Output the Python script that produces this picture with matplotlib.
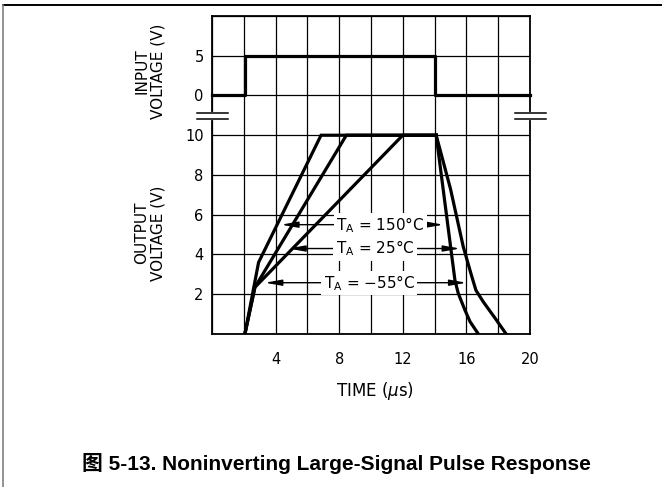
import numpy as np
import matplotlib.pyplot as plt
import matplotlib.transforms as mtransforms
from matplotlib.lines import Line2D

### Data ###
# input pulse (V) vs time (us)
t_in = [0, 2.05, 2.05, 14.0, 14.0, 20]
v_in = [0, 0, 5, 5, 0, 0]

# output rising edges + plateau
t_150 = [2.07, 2.93, 6.86, 14.1]
v_150 = [0, 3.6, 10, 10]
t_25 = [2.07, 2.7, 8.45, 14.1]
v_25 = [0, 2.35, 10, 10]
t_m55 = [2.07, 2.7, 12.0, 14.1]
v_m55 = [0, 2.35, 10, 10]

# output falling edges
t_fallA = [14.1, 15.28, 15.49, 15.91, 16.23, 16.75]
v_fallA = [10, 2.7, 2.04, 1.2, 0.62, 0]
t_fallB = [14.1, 15.0, 15.8, 16.3, 16.6, 17.06, 17.8, 18.5]
v_fallB = [10, 7.3, 4.4, 3.0, 2.2, 1.62, 0.8, 0]

# temperature labels: text centre, left arrow tip, right arrow tip
lbl_text = [r'T$_\mathrm{A}$ = 150°C', r'T$_\mathrm{A}$ = 25°C', r'T$_\mathrm{A}$ = $-$55°C']
lbl_t = [10.6, 10.25, 9.9]
lbl_v = [5.5, 4.3, 2.58]
lbl_left = [4.35, 4.8, 3.33]
lbl_right = [14.55, 15.6, 16.0]

x_ticks = [0, 2, 4, 6, 8, 10, 12, 14, 16, 18, 20]
x_labels = ['', '', '4', '', '8', '', '12', '', '16', '', '20']
out_ticks = [0, 2, 4, 6, 8, 10]
out_labels = ['', '2', '4', '6', '8', '10']
in_ticks = [0, 5]
in_labels = ['0', '5']

# input panel sits above the output panel on a shared grid
IN_BASE = 12.0
IN_SCALE = 0.4

fig = plt.figure(figsize=(6.62, 4.87), dpi=100)
ax = fig.add_axes([0.3202, 0.3142, 0.4804, 0.6530])
ax.set_xlim(0, 20)
ax.set_ylim(0, 16)

yt = out_ticks + [IN_BASE + IN_SCALE*v for v in in_ticks] + [16]
yl = out_labels + in_labels + ['']
ax.set_yticks(yt)
ax.set_yticklabels(yl)
ax.set_xticks(x_ticks)
ax.set_xticklabels(x_labels)
ax.tick_params(length=0, labelsize=10.5, colors='k')
ax.tick_params(axis='y', pad=6)
ax.tick_params(axis='x', pad=13)
ax.grid(True, color='k', lw=0.9)
for s in ax.spines.values():
    s.set_linewidth(1.3)

lw = 2.3
ax.plot(t_in, [IN_BASE + IN_SCALE*v for v in v_in], color='k', lw=lw, zorder=4, clip_on=False)
for tt, vv in [(t_150, v_150), (t_25, v_25), (t_m55, v_m55), (t_fallA, v_fallA), (t_fallB, v_fallB)]:
    ax.plot(tt, vv, color='k', lw=lw, zorder=4, solid_joinstyle='miter')

# axis break marks
trans = mtransforms.blended_transform_factory(ax.transAxes, ax.transData)
for xa in [(-0.048, 0.05), (0.953, 1.05)]:
    for yb in [10.82, 11.1]:
        ax.add_line(Line2D(xa, [yb, yb], transform=trans, color='k', lw=1.1, clip_on=False, zorder=6))
for xs in [0, 20]:
    ax.plot([xs, xs], [10.87, 11.05], color='white', lw=3, clip_on=False, zorder=5)

# temperature annotations
for i in range(3):
    for tip in [lbl_left[i], lbl_right[i]]:
        ax.annotate('', xy=(tip, lbl_v[i]), xytext=(lbl_t[i], lbl_v[i]),
                    arrowprops=dict(arrowstyle='-|>,head_length=1.0,head_width=0.18',
                                    color='k', lw=1.0, shrinkA=0, shrinkB=0),
                    zorder=4)
    ax.text(lbl_t[i], lbl_v[i], lbl_text[i], ha='center', va='center', fontsize=11,
            zorder=6, bbox=dict(boxstyle='square,pad=0.15', fc='white', ec='none'))

fig.text(150/662, 1 - 71/487, 'INPUT\nVOLTAGE (V)', rotation=90, ha='center', va='center',
         fontsize=11, linespacing=1.15)
fig.text(150/662, 1 - 233/487, 'OUTPUT\nVOLTAGE (V)', rotation=90, ha='center', va='center',
         fontsize=11, linespacing=1.15)
fig.text(375/662, 1 - 391/487, r'TIME ($\mu$s)', ha='center', va='center', fontsize=12)

fig.text(0.508, 1 - 464/487, '图 5-13. Noninverting Large-Signal Pulse Response', ha='center',
         va='center', fontsize=15, fontweight='bold', family=['Liberation Sans', 'Noto Sans CJK SC'])

# frame lines
fig.add_artist(Line2D([3/662, 1], [1 - 5/487, 1 - 5/487], transform=fig.transFigure, color='k', lw=1.4))
fig.add_artist(Line2D([3/662, 3/662], [0, 1 - 5/487], transform=fig.transFigure, color='0.5', lw=1.2))

fig.savefig('out.png', dpi=100)
